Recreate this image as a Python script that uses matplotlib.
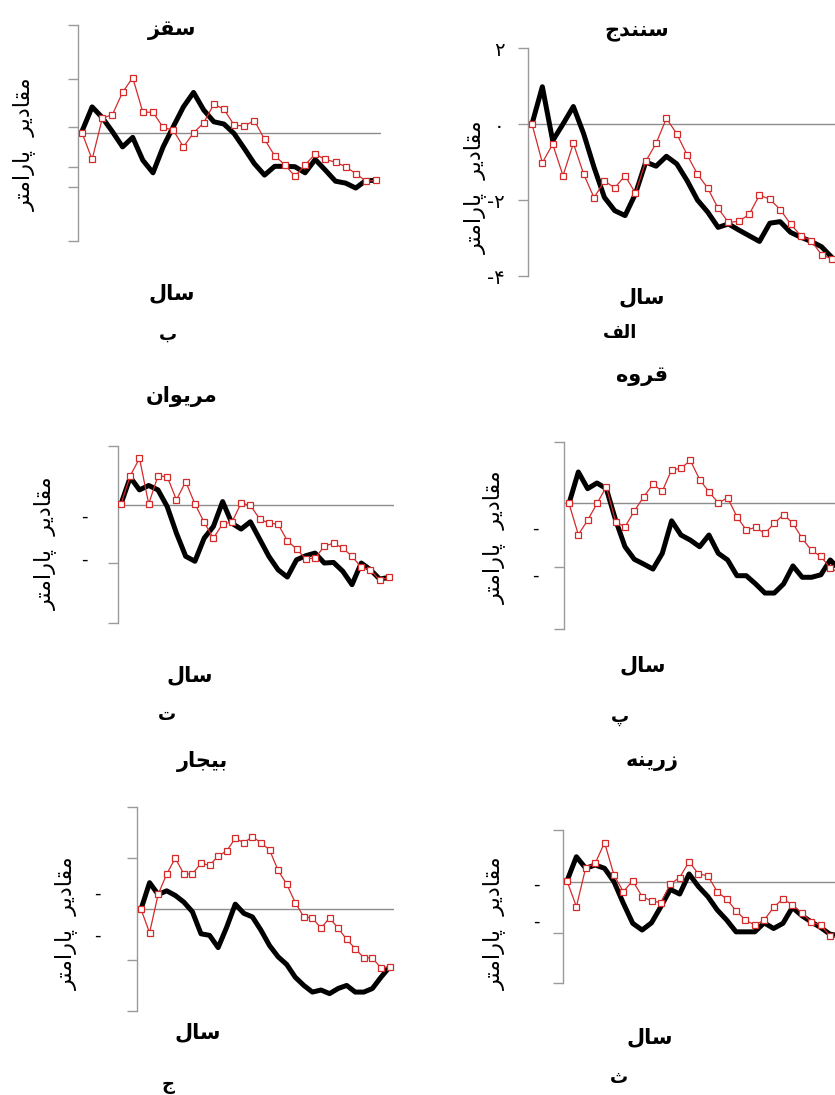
"""
Six-panel comparison of parameter series (black = observed, red = model).
Outputs: out.png
"""

import matplotlib
matplotlib.use("Agg")
import matplotlib.pyplot as plt
import numpy as np

matplotlib.rcParams["font.family"] = ["DejaVu Sans"]
matplotlib.rcParams["axes.unicode_minus"] = False

W, H = 835, 1095

# ---- data ----
titles = ["سقز", "سنندج", "مریوان", "قروه", "بیجار", "زرینه"]
letters = ["ب", "الف", "ت", "پ", "ج", "ث"]

saqqez_black = [0.04, 0.68, 0.40, 0.03, -0.37, -0.12, -0.72, -1.05, -0.37, 0.16,
                0.68, 1.06, 0.60, 0.29, 0.23, -0.02, -0.41, -0.81, -1.11, -0.88,
                -0.88, -0.89, -1.05, -0.70, -0.98, -1.27, -1.32, -1.45, -1.25, -1.25]
saqqez_red = [0.0, -0.70, 0.38, 0.48, 1.06, 1.45, 0.54, 0.54, 0.14, 0.07,
              -0.37, 0.0, 0.26, 0.75, 0.62, 0.20, 0.18, 0.32, -0.17, -0.60,
              -0.84, -1.14, -0.84, -0.56, -0.70, -0.77, -0.89, -1.07, -1.27, -1.25]

sanandaj_black = [0.0, 0.98, -0.44, 0.0, 0.46, -0.26, -1.14, -1.93, -2.28, -2.41,
                  -1.84, -1.00, -1.11, -0.85, -1.05, -1.49, -2.00, -2.32, -2.72, -2.63,
                  -2.79, -2.94, -3.09, -2.61, -2.57, -2.85, -2.98, -3.09, -3.23, -3.51]
sanandaj_red = [0.0, -1.02, -0.53, -1.36, -0.51, -1.32, -1.94, -1.50, -1.68, -1.36,
                -1.82, -0.98, -0.51, 0.15, -0.26, -0.81, -1.32, -1.69, -2.22, -2.59,
                -2.56, -2.38, -1.87, -1.98, -2.25, -2.63, -2.94, -3.07, -3.44, -3.55]

marivan_black = [0.02, 0.93, 0.50, 0.65, 0.50, -0.07, -0.98, -1.77, -1.94, -1.15,
                 -0.75, 0.10, -0.64, -0.84, -0.59, -1.18, -1.77, -2.23, -2.48, -1.89,
                 -1.75, -1.66, -2.00, -1.98, -2.28, -2.74, -2.00, -2.23, -2.55, -2.49]
marivan_red = [0.02, 0.98, 1.58, 0.02, 0.98, 0.95, 0.16, 0.78, 0.02, -0.61,
               -1.15, -0.66, -0.61, 0.05, -0.03, -0.49, -0.64, -0.67, -1.24, -1.52,
               -1.86, -1.83, -1.43, -1.32, -1.49, -1.77, -2.15, -2.23, -2.59, -2.49]

qorveh_black = [0.0, 1.00, 0.47, 0.65, 0.47, -0.53, -1.37, -1.77, -1.92, -2.08,
                -1.58, -0.55, -1.00, -1.16, -1.37, -1.00, -1.58, -1.79, -2.29, -2.29,
                -2.55, -2.84, -2.84, -2.55, -1.98, -2.34, -2.34, -2.26, -1.79, -2.10]
qorveh_red = [0.0, -0.99, -0.53, 0.0, 0.53, -0.58, -0.74, -0.24, 0.21, 0.61,
              0.39, 1.07, 1.11, 1.37, 0.76, 0.37, 0.02, 0.18, -0.42, -0.84,
              -0.76, -0.95, -0.63, -0.35, -0.63, -1.11, -1.49, -1.68, -2.05, -2.20]

bijar_black = [0.0, 0.52, 0.29, 0.36, 0.27, 0.14, -0.05, -0.48, -0.51, -0.75,
               -0.35, 0.10, -0.08, -0.15, -0.41, -0.71, -0.93, -1.08, -1.33, -1.49,
               -1.62, -1.58, -1.65, -1.55, -1.49, -1.62, -1.62, -1.55, -1.33, -1.13]
bijar_red = [0.0, -0.46, 0.29, 0.69, 1.00, 0.69, 0.69, 0.90, 0.86, 1.04,
             1.14, 1.39, 1.30, 1.42, 1.30, 1.16, 0.76, 0.49, 0.13, -0.15,
             -0.17, -0.37, -0.17, -0.37, -0.59, -0.77, -0.95, -0.95, -1.15, -1.12]

zarrineh_black = [0.03, 0.97, 0.52, 0.65, 0.52, 0.0, -0.84, -1.62, -1.88, -1.60,
                  -0.97, -0.30, -0.48, 0.30, -0.19, -0.58, -1.10, -1.49, -1.95, -1.95,
                  -1.95, -1.60, -1.82, -1.62, -1.00, -1.32, -1.56, -1.78, -2.04, -2.10]
zarrineh_red = [0.03, -0.97, 0.55, 0.71, 1.52, 0.26, -0.39, 0.04, -0.58, -0.75,
                -0.81, -0.09, 0.16, 0.78, 0.30, 0.23, -0.39, -0.68, -1.13, -1.49,
                -1.69, -1.49, -1.00, -0.66, -0.91, -1.21, -1.56, -1.69, -2.10, -2.20]

blacks = [saqqez_black, sanandaj_black, marivan_black, qorveh_black, bijar_black, zarrineh_black]
reds = [saqqez_red, sanandaj_red, marivan_red, qorveh_red, bijar_red, zarrineh_red]

# ---- layout in pixels of the 835x1095 canvas ----
LAYOUT = [
    dict(spine=78, first=82, step=10.14, right=381, top=25, bottom=241,
         ylim=(-2.84, 2.83), yticks=[2.83, 1.41, 0.14, -0.91, -1.42, -2.84],
         title=(172, 30), ylab=(24, 144), xlab=(172, 293), letter=(168, 335), dashes=[]),
    dict(spine=528, first=532, step=10.34, right=850, top=48, bottom=276,
         ylim=(-4, 2), yticks=[2, 0, -2, -4],
         title=(637, 31), ylab=(475, 187), xlab=(642, 297), letter=(620, 333), dashes=[]),
    dict(spine=118, first=121, step=9.24, right=394, top=446, bottom=623,
         ylim=(-4.05, 2.0), yticks=[2.0, -2.0, -4.05],
         title=(182, 396), ylab=(45, 543), xlab=(190, 675), letter=(167, 715),
         dashes=[(84, 517), (84, 560)]),
    dict(spine=564, first=569, step=9.33, right=850, top=442, bottom=629,
         ylim=(-3.98, 1.95), yticks=[1.95, -2.0, -3.98],
         title=(642, 376), ylab=(494, 537), xlab=(643, 665), letter=(620, 717),
         dashes=[(535, 529), (535, 576)]),
    dict(spine=137, first=141, step=8.57, right=394, top=807, bottom=1011,
         ylim=(-1.99, 2.0), yticks=[2.0, 1.0, -1.0, -1.99],
         title=(203, 761), ylab=(66, 923), xlab=(198, 1032), letter=(168, 1085),
         dashes=[(97, 894), (97, 936)]),
    dict(spine=563, first=567, step=9.39, right=850, top=830, bottom=983,
         ylim=(-3.94, 2.01), yticks=[2.01, -2.01, -3.94],
         title=(652, 761), ylab=(494, 923), xlab=(650, 1037), letter=(619, 1078),
         dashes=[(536, 885), (536, 922)]),
]

YLABEL = "مقادیر  پارامتر"
XLABEL = "سال"
SANANDAJ_TICKLABELS = ["۲", "۰", "-۲", "-۴"]

# ---- minimal Arabic/Persian shaping (matplotlib has no complex text layout) ----
FORMS = {
    # char: (isolated, final, initial, medial)
    "ا": ("\uFE8D", "\uFE8E", None, None),
    "ب": ("\uFE8F", "\uFE90", "\uFE91", "\uFE92"),
    "پ": ("\uFB56", "\uFB57", "\uFB58", "\uFB59"),
    "ت": ("\uFE95", "\uFE96", "\uFE97", "\uFE98"),
    "ث": ("\uFE99", "\uFE9A", "\uFE9B", "\uFE9C"),
    "ج": ("\uFE9D", "\uFE9E", "\uFE9F", "\uFEA0"),
    "د": ("\uFEA9", "\uFEAA", None, None),
    "ر": ("\uFEAD", "\uFEAE", None, None),
    "ز": ("\uFEAF", "\uFEB0", None, None),
    "س": ("\uFEB1", "\uFEB2", "\uFEB3", "\uFEB4"),
    "ف": ("\uFED1", "\uFED2", "\uFED3", "\uFED4"),
    "ق": ("\uFED5", "\uFED6", "\uFED7", "\uFED8"),
    "ل": ("\uFEDD", "\uFEDE", "\uFEDF", "\uFEE0"),
    "م": ("\uFEE1", "\uFEE2", "\uFEE3", "\uFEE4"),
    "ن": ("\uFEE5", "\uFEE6", "\uFEE7", "\uFEE8"),
    "ه": ("\uFEE9", "\uFEEA", "\uFEEB", "\uFEEC"),
    "و": ("\uFEED", "\uFEEE", None, None),
    "ی": ("\uFBFC", "\uFBFD", "\uFBFE", "\uFBFF"),
}


def rtl(s):
    out = []
    for i, c in enumerate(s):
        if c not in FORMS:
            out.append(c)
            continue
        iso, fin, ini, med = FORMS[c]
        prev = s[i - 1] if i > 0 else None
        nxt = s[i + 1] if i + 1 < len(s) else None
        jp = prev in FORMS and FORMS[prev][2] is not None
        jn = ini is not None and nxt in FORMS
        if jp and jn:
            out.append(med)
        elif jp:
            out.append(fin)
        elif jn:
            out.append(ini)
        else:
            out.append(iso)
    return "".join(reversed(out))


def fx(x):
    return x / W


def fy(y):
    return 1 - y / H


fig = plt.figure(figsize=(W / 100, H / 100), dpi=100)
fig.patch.set_facecolor("white")

RED = "#d42a2a"

for i, lay in enumerate(LAYOUT):
    black = blacks[i]
    red = reds[i]
    ax = fig.add_axes([fx(lay["spine"]), fy(lay["bottom"]),
                       (lay["right"] - lay["spine"]) / W,
                       (lay["bottom"] - lay["top"]) / H])
    ax.set_facecolor("none")
    xs = np.arange(len(black))
    ax.set_xlim(-(lay["first"] - lay["spine"]) / lay["step"],
                (lay["right"] - lay["first"]) / lay["step"])
    ax.set_ylim(*lay["ylim"])

    ax.axhline(0, color="#8c8c8c", lw=1.0, zorder=1)
    ax.plot(xs, black, color="black", lw=3.6, solid_joinstyle="round",
            solid_capstyle="round", zorder=2)
    ax.plot(xs, red, color=RED, lw=0.9, marker="s", ms=4.2,
            mfc="white", mec=RED, mew=0.9, zorder=3)

    for side in ["top", "right", "bottom"]:
        ax.spines[side].set_visible(False)
    ax.spines["left"].set_color("#9a9a9a")
    ax.spines["left"].set_linewidth(1.0)
    ax.set_xticks([])
    ax.set_yticks(lay["yticks"])
    ax.tick_params(axis="y", direction="out", length=7, width=1.0,
                   color="#9a9a9a")
    if i == 1:
        ax.set_yticklabels(SANANDAJ_TICKLABELS, fontsize=14)
        ax.tick_params(axis="y", pad=10)
    else:
        ax.set_yticklabels([])

    # texts
    fig.text(fx(lay["title"][0]), fy(lay["title"][1]), rtl(titles[i]),
             ha="center", va="center", fontsize=15, fontweight="bold")
    fig.text(fx(lay["ylab"][0]), fy(lay["ylab"][1]), rtl(YLABEL),
             ha="center", va="center", rotation=90, fontsize=16)
    fig.text(fx(lay["xlab"][0]), fy(lay["xlab"][1]), rtl(XLABEL),
             ha="center", va="center", fontsize=15, fontweight="bold")
    fig.text(fx(lay["letter"][0]), fy(lay["letter"][1]), rtl(letters[i]),
             ha="center", va="center", fontsize=13, fontweight="bold")
    for dx, dy in lay["dashes"]:
        fig.text(fx(dx), fy(dy), "-", ha="center", va="center", fontsize=13)

fig.savefig("out.png", dpi=100, facecolor="white")
